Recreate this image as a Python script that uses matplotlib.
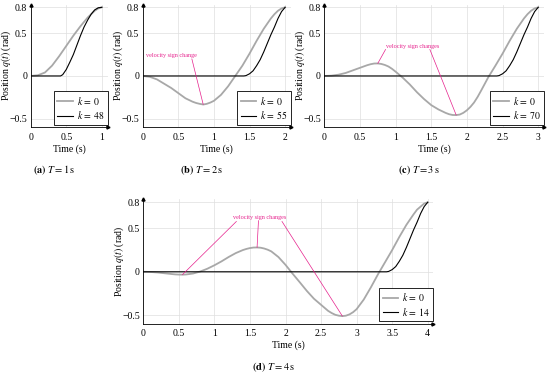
import numpy as np
import matplotlib
matplotlib.use('Agg')
import matplotlib.pyplot as plt

plt.rcParams['font.family'] = ['Liberation Serif', 'DejaVu Serif']
plt.rcParams['mathtext.fontset'] = 'stix'
plt.rcParams['font.size'] = 7

# ---- data ----
# T = 1 s
t_a_k0 = [0, 0.1, 0.2, 0.3, 0.4, 0.5, 0.6, 0.7, 0.8, 0.9, 0.95, 1.0]
q_a_k0 = [0, 0.008, 0.04, 0.12, 0.23, 0.35, 0.47, 0.58, 0.68, 0.76, 0.787, 0.8]
t_a_k48 = [0, 0.42, 0.45, 0.5, 0.55, 0.6, 0.65, 0.7, 0.75, 0.8, 0.85, 0.9, 0.95, 1.0]
q_a_k48 = [0, 0, 0.015, 0.075, 0.16, 0.25, 0.36, 0.47, 0.57, 0.65, 0.72, 0.77, 0.795, 0.8]

# T = 2 s
t_b_k0 = [0, 0.1, 0.2, 0.3, 0.4, 0.5, 0.6, 0.7, 0.75, 0.8, 0.85, 0.9, 0.95, 1.0, 1.1,
          1.2, 1.3, 1.4, 1.5, 1.6, 1.7, 1.8, 1.85, 1.9, 1.95, 2.0]
q_b_k0 = [0, -0.01, -0.04, -0.09, -0.14, -0.20, -0.26, -0.30, -0.315, -0.325, -0.333,
          -0.325, -0.31, -0.29, -0.22, -0.12, 0.0, 0.12, 0.26, 0.41, 0.55, 0.67, 0.72,
          0.76, 0.787, 0.8]
t_b_k55 = [0, 1.42, 1.45, 1.5, 1.55, 1.6, 1.65, 1.7, 1.75, 1.8, 1.85, 1.9, 1.95, 2.0]
q_b_k55 = [0, 0, 0.004, 0.025, 0.06, 0.12, 0.19, 0.28, 0.38, 0.48, 0.57, 0.67, 0.75, 0.8]

# T = 3 s
t_c_k0 = [0, 0.1, 0.2, 0.3, 0.4, 0.5, 0.6, 0.65, 0.7, 0.75, 0.8, 0.85, 0.9, 0.95, 1.0,
          1.1, 1.2, 1.3, 1.4, 1.5, 1.6, 1.7, 1.75, 1.8, 1.85, 1.9, 1.95, 2.0, 2.05,
          2.1, 2.15, 2.2, 2.3, 2.4, 2.5, 2.6, 2.7, 2.8, 2.85, 2.9, 2.95, 3.0]
q_c_k0 = [0, 0.003, 0.015, 0.035, 0.065, 0.095, 0.125, 0.137, 0.145, 0.146, 0.14,
          0.128, 0.11, 0.083, 0.05, -0.02, -0.10, -0.19, -0.27, -0.34, -0.39, -0.43,
          -0.446, -0.455, -0.456, -0.45, -0.43, -0.40, -0.36, -0.31, -0.245, -0.17,
          -0.015, 0.12, 0.26, 0.41, 0.55, 0.67, 0.72, 0.76, 0.787, 0.8]
t_c_k70 = [0, 2.42, 2.45, 2.5, 2.55, 2.6, 2.65, 2.7, 2.75, 2.8, 2.85, 2.9, 2.95, 3.0]
q_c_k70 = [0, 0, 0.004, 0.025, 0.06, 0.12, 0.19, 0.28, 0.38, 0.48, 0.57, 0.67, 0.75, 0.8]

# T = 4 s
t_d_k0 = [0, 0.1, 0.2, 0.3, 0.4, 0.45, 0.5, 0.55, 0.6, 0.7, 0.8, 0.9, 1.0, 1.1, 1.2,
          1.3, 1.4, 1.45, 1.5, 1.55, 1.6, 1.65, 1.7, 1.75, 1.8, 1.9, 2.0, 2.1, 2.2,
          2.3, 2.4, 2.5, 2.6, 2.65, 2.7, 2.75, 2.8, 2.85, 2.9, 2.95, 3.0, 3.1, 3.2,
          3.3, 3.4, 3.5, 3.6, 3.7, 3.8, 3.85, 3.9, 3.95, 4.0]
q_d_k0 = [0, -0.002, -0.008, -0.017, -0.026, -0.03, -0.032, -0.033, -0.031, -0.02,
          0.003, 0.035, 0.075, 0.12, 0.17, 0.215, 0.25, 0.263, 0.273, 0.279, 0.28,
          0.277, 0.268, 0.254, 0.235, 0.17, 0.08, -0.022, -0.12, -0.22, -0.31,
          -0.38, -0.45, -0.475, -0.495, -0.505, -0.51, -0.505, -0.49, -0.465, -0.43,
          -0.32, -0.18, -0.03, 0.11, 0.25, 0.40, 0.54, 0.66, 0.715, 0.75, 0.785, 0.8]
t_d_k14 = [0, 3.42, 3.45, 3.5, 3.55, 3.6, 3.65, 3.7, 3.75, 3.8, 3.85, 3.9, 3.95, 4.0]
q_d_k14 = [0, 0, 0.004, 0.025, 0.06, 0.12, 0.19, 0.28, 0.38, 0.48, 0.57, 0.67, 0.75, 0.8]

y_ticks = [-0.5, 0, 0.5, 0.8]

GRAY = '#a8a8a8'
MAG = '#e6208c'
W, H = 550, 373

fig = plt.figure(figsize=(5.5, 3.73), dpi=100)


def add_panel(left, right, top, bottom, T, t0, q0, t1, q1, k):
    ax = fig.add_axes([left / W, 1 - bottom / H, (right - left) / W, (bottom - top) / H])
    ax.plot(t0, q0, color=GRAY, lw=1.3, label=r'$k\,=\,0$', solid_joinstyle='round')
    ax.plot(t1, q1, color='black', lw=0.8, label=rf'$k\,=\,{k}$', solid_joinstyle='round')
    ax.set_xlim(0, T + 0.08)
    ax.set_ylim(-0.595, 0.833)
    xt = np.arange(0, T + 0.01, 0.5)
    ax.set_xticks(xt)
    ax.set_xticklabels([f'{v:g}' for v in xt])
    ax.set_yticks(y_ticks)
    ax.set_yticklabels([f'{v:g}'.replace('-', '\u2212') for v in y_ticks])
    ax.grid(True, color='#dedede', lw=0.5)
    ax.set_axisbelow(True)
    for s in ['top', 'right']:
        ax.spines[s].set_visible(False)
    for s in ['left', 'bottom']:
        ax.spines[s].set_linewidth(0.6)
    ax.tick_params(axis='x', length=0, pad=4)
    ax.tick_params(axis='y', length=0, pad=2.5)
    ax.plot([1], [0], marker='>', color='black', ms=2.2, transform=ax.transAxes, clip_on=False)
    ax.plot([0], [1], marker='^', color='black', ms=2.2, transform=ax.transAxes, clip_on=False)
    w_px, h_px = right - left, bottom - top
    ax.text(0.5, -22 / h_px, 'Time (s)', transform=ax.transAxes, ha='center', va='center')
    ax.text(-24 / w_px, 0.5, 'Position $q(t)$ (rad)', transform=ax.transAxes,
            rotation=90, ha='center', va='center')
    ax.legend(loc='lower right', bbox_to_anchor=(1.0, 0.02), borderaxespad=0,
              fancybox=False, edgecolor='black', framealpha=1, handlelength=1.6,
              handletextpad=0.4, borderpad=0.35, labelspacing=0.25)
    ax.get_legend().get_frame().set_linewidth(0.6)
    return ax


def note(ax, text, text_xy, starts, targets):
    ax.text(text_xy[0], text_xy[1], text, color=MAG, fontsize=4.4, ha='center', va='center')
    for s, tg in zip(starts, targets):
        ax.annotate('', xy=tg, xytext=s,
                    arrowprops=dict(arrowstyle='-', color=MAG, lw=0.5, shrinkA=0, shrinkB=0))


ax_a = add_panel(30.7, 107.5, 4.5, 127, 1, t_a_k0, q_a_k0, t_a_k48, q_a_k48, 48)
ax_b = add_panel(142.7, 290.8, 4.5, 127, 2, t_b_k0, q_b_k0, t_b_k55, q_b_k55, 55)
ax_c = add_panel(324.3, 543.9, 4.5, 127, 3, t_c_k0, q_c_k0, t_c_k70, q_c_k70, 70)
ax_d = add_panel(143.3, 433.4, 199.4, 323.5, 4, t_d_k0, q_d_k0, t_d_k14, q_d_k14, 14)

# velocity sign change points taken from the data
i = int(np.argmin(q_b_k0))
note(ax_b, 'velocity sign change', (0.4, 0.24), [(0.69, 0.2)], [(t_b_k0[i], q_b_k0[i])])

i_max = int(np.argmax(q_c_k0[:15]))
i_min = int(np.argmin(q_c_k0))
note(ax_c, 'velocity sign changes', (1.24, 0.345), [(0.86, 0.31), (1.48, 0.31)],
     [(t_c_k0[i_max], q_c_k0[i_max]), (t_c_k0[i_min], q_c_k0[i_min])])

j_min1 = int(np.argmin(q_d_k0[:12]))
j_max = int(np.argmax(q_d_k0[:30]))
j_min2 = int(np.argmin(q_d_k0))
note(ax_d, 'velocity sign changes', (1.64, 0.63), [(1.31, 0.58), (1.62, 0.59), (1.95, 0.58)],
     [(t_d_k0[j_min1], q_d_k0[j_min1]), (t_d_k0[j_max], q_d_k0[j_max]),
      (t_d_k0[j_min2], q_d_k0[j_min2])])

captions = [r'$\mathbf{(a)}\ T = 1\,\mathrm{s}$', r'$\mathbf{(b)}\ T = 2\,\mathrm{s}$',
            r'$\mathbf{(c)}\ T = 3\,\mathrm{s}$', r'$\mathbf{(d)}\ T = 4\,\mathrm{s}$']
cap_pos = [(54, 170.5), (202, 170.5), (418.5, 170.5), (273.7, 367.5)]
for c, (x, y) in zip(captions, cap_pos):
    fig.text(x / W, 1 - y / H, c, ha='center', va='center', fontsize=7.5)

fig.savefig('out.png', dpi=100)
